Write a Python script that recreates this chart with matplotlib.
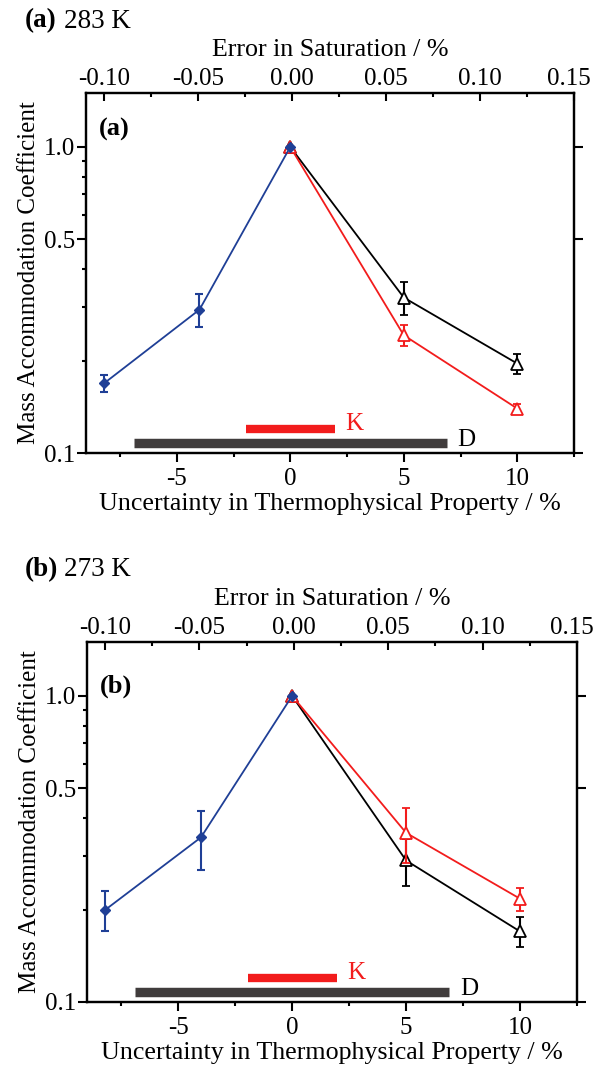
import matplotlib
matplotlib.use("Agg")
import matplotlib.pyplot as plt
import matplotlib.transforms as mtransforms
from matplotlib.ticker import FixedLocator, NullFormatter

plt.rcParams['font.family'] = ['Liberation Serif', 'DejaVu Serif']

# ---------------- data ----------------
x_neg = [-8.2, -4, 0]
x_pos = [0, 5, 10]

# panel (a) 283 K
a_blue = [0.169, 0.294, 1.0]
a_blue_err = [0.011, 0.036, 0.0]
a_black = [1.0, 0.322, 0.196]
a_black_err = [0.0, 0.040, 0.015]
a_red = [1.0, 0.2425, 0.1397]
a_red_err = [0.0, 0.019, 0.005]

# panel (b) 273 K
b_blue = [0.200, 0.345, 1.0]
b_blue_err = [0.030, 0.075, 0.0]
b_black = [1.0, 0.290, 0.170]
b_black_err = [0.0, 0.051, 0.019]
b_red = [1.0, 0.357, 0.2175]
b_red_err = [0.0, 0.073, 0.019]

K_range = [-1.95, 1.95]
D_range = [-6.9, 6.9]

panel_titles = ["(a)", "(b)"]
panel_temps = ["283 K", "273 K"]

x_ticks = [-5, 0, 5, 10]
x_ticklabels = ["-5", "0", "5", "10"]
top_ticks = [-0.10, -0.05, 0.00, 0.05, 0.10, 0.15]
top_ticklabels = ["-0.10", "-0.05", "0.00", "0.05", "0.10", "0.15"]
y_ticks = [0.1, 0.5, 1.0]
y_ticklabels = ["0.1", "0.5", "1.0"]

BLUE = "#1f3f96"
RED = "#f21c1c"
BLACK = "#000000"
DGRAY = "#403c3c"

W, H = 594, 1065
fig = plt.figure(figsize=(W / 100, H / 100), dpi=100)

panels = [
    dict(box=(86, 574, 93, 453), blue=a_blue, be=a_blue_err, black=a_black, ke=a_black_err,
         red=a_red, re=a_red_err, inner_y=0.90),
    dict(box=(87, 577, 642, 1002), blue=b_blue, be=b_blue_err, black=b_black, ke=b_black_err,
         red=b_red, re=b_red_err, inner_y=0.878),
]

FS_TICK = 18
FS_LAB = 18.7
LW = 1.3

for i, p in enumerate(panels):
    l, r, t, b = p["box"]
    ax = fig.add_axes([l / W, 1 - b / H, (r - l) / W, (b - t) / H])
    ax.set_yscale("log")
    ax.set_xlim(-9, 12.5)
    ax.set_ylim(0.1, 1.5)

    common = dict(lw=LW, capsize=3.2, capthick=1.5, elinewidth=1.5)
    ax.errorbar(x_pos, p["black"], yerr=p["ke"], color=BLACK, marker="^",
                ms=8, mfc="white", mec=BLACK, mew=1.3, zorder=3, **common)
    ax.errorbar(x_pos, p["red"], yerr=p["re"], color=RED, marker="^",
                ms=8, mfc="white", mec=RED, mew=1.3, zorder=4, **common)
    ax.errorbar(x_neg, p["blue"], yerr=p["be"], color=BLUE, marker="D",
                ms=5, mfc=BLUE, mec=BLUE, zorder=5, **common)

    # uncertainty range bars
    ax.hlines(0.1195, K_range[0], K_range[1], color=RED, lw=6, zorder=2)
    ax.hlines(0.1076, D_range[0], D_range[1], color=DGRAY, lw=6.8, zorder=2)
    ax.text(K_range[1] + 0.45, 0.1245, "K", color=RED, fontsize=18, va="center", ha="left")
    ax.text(D_range[1] + 0.47, 0.1102, "D", color=BLACK, fontsize=18, va="center", ha="left")

    ax.text(13 / (r - l), p["inner_y"], panel_titles[i], transform=ax.transAxes, fontsize=19,
            fontweight="bold", va="center", ha="left")

    # axes styling
    ax.set_yticks(y_ticks)
    ax.set_yticklabels(y_ticklabels)
    ax.yaxis.set_minor_locator(FixedLocator([0.2, 0.3, 0.4, 0.6, 0.7, 0.8, 0.9]))
    ax.yaxis.set_minor_formatter(NullFormatter())
    ax.set_xticks(x_ticks)
    ax.set_xticklabels(x_ticklabels)
    ax.xaxis.set_minor_locator(FixedLocator([-7.5, -2.5, 2.5, 7.5, 12.5]))
    ax.tick_params(which="major", direction="out", length=6.5, width=1.5, labelsize=FS_TICK, pad=1)
    ax.tick_params(axis="x", which="major", pad=4.5)
    ax.tick_params(which="minor", direction="out", length=3, width=1.5)
    ax.tick_params(axis="y", which="minor", right=False)
    ax.tick_params(axis="y", which="major", right=True, labelright=False)
    for s in ax.spines.values():
        s.set_linewidth(1.6)

    ax.set_xlabel("Uncertainty in Thermophysical Property / %", fontsize=FS_LAB, labelpad=2)
    ax.set_ylabel("Mass Accommodation Coefficient", fontsize=18, labelpad=3)

    ax2 = ax.twiny()
    ax2.set_xlim(-0.1096, 0.15)
    ax2.set_xticks(top_ticks)
    ax2.set_xticklabels(top_ticklabels)
    ax2.xaxis.set_minor_locator(FixedLocator([-0.075, -0.025, 0.025, 0.075, 0.125]))
    ax2.tick_params(which="major", direction="in", length=6, width=1.5, labelsize=FS_TICK, pad=2)
    ax2.tick_params(which="minor", direction="in", length=3, width=1.5)
    ax2.set_xlabel("Error in Saturation / %", fontsize=FS_LAB, labelpad=9)
    for s in ax2.spines.values():
        s.set_linewidth(1.6)
    # nudge the last top label so it stays on the canvas
    lab = ax2.get_xticklabels()[-1]
    lab.set_transform(lab.get_transform() + mtransforms.ScaledTranslation(-5 / 100, 0, fig.dpi_scale_trans))

    # panel heading above
    ty = t - 72
    fig.text(25 / W, 1 - ty / H, panel_titles[i], fontsize=19.5, fontweight="bold",
             va="center", ha="left")
    fig.text(64 / W, 1 - ty / H, panel_temps[i], fontsize=19.5, va="center", ha="left")

fig.savefig("out.png", dpi=100)
